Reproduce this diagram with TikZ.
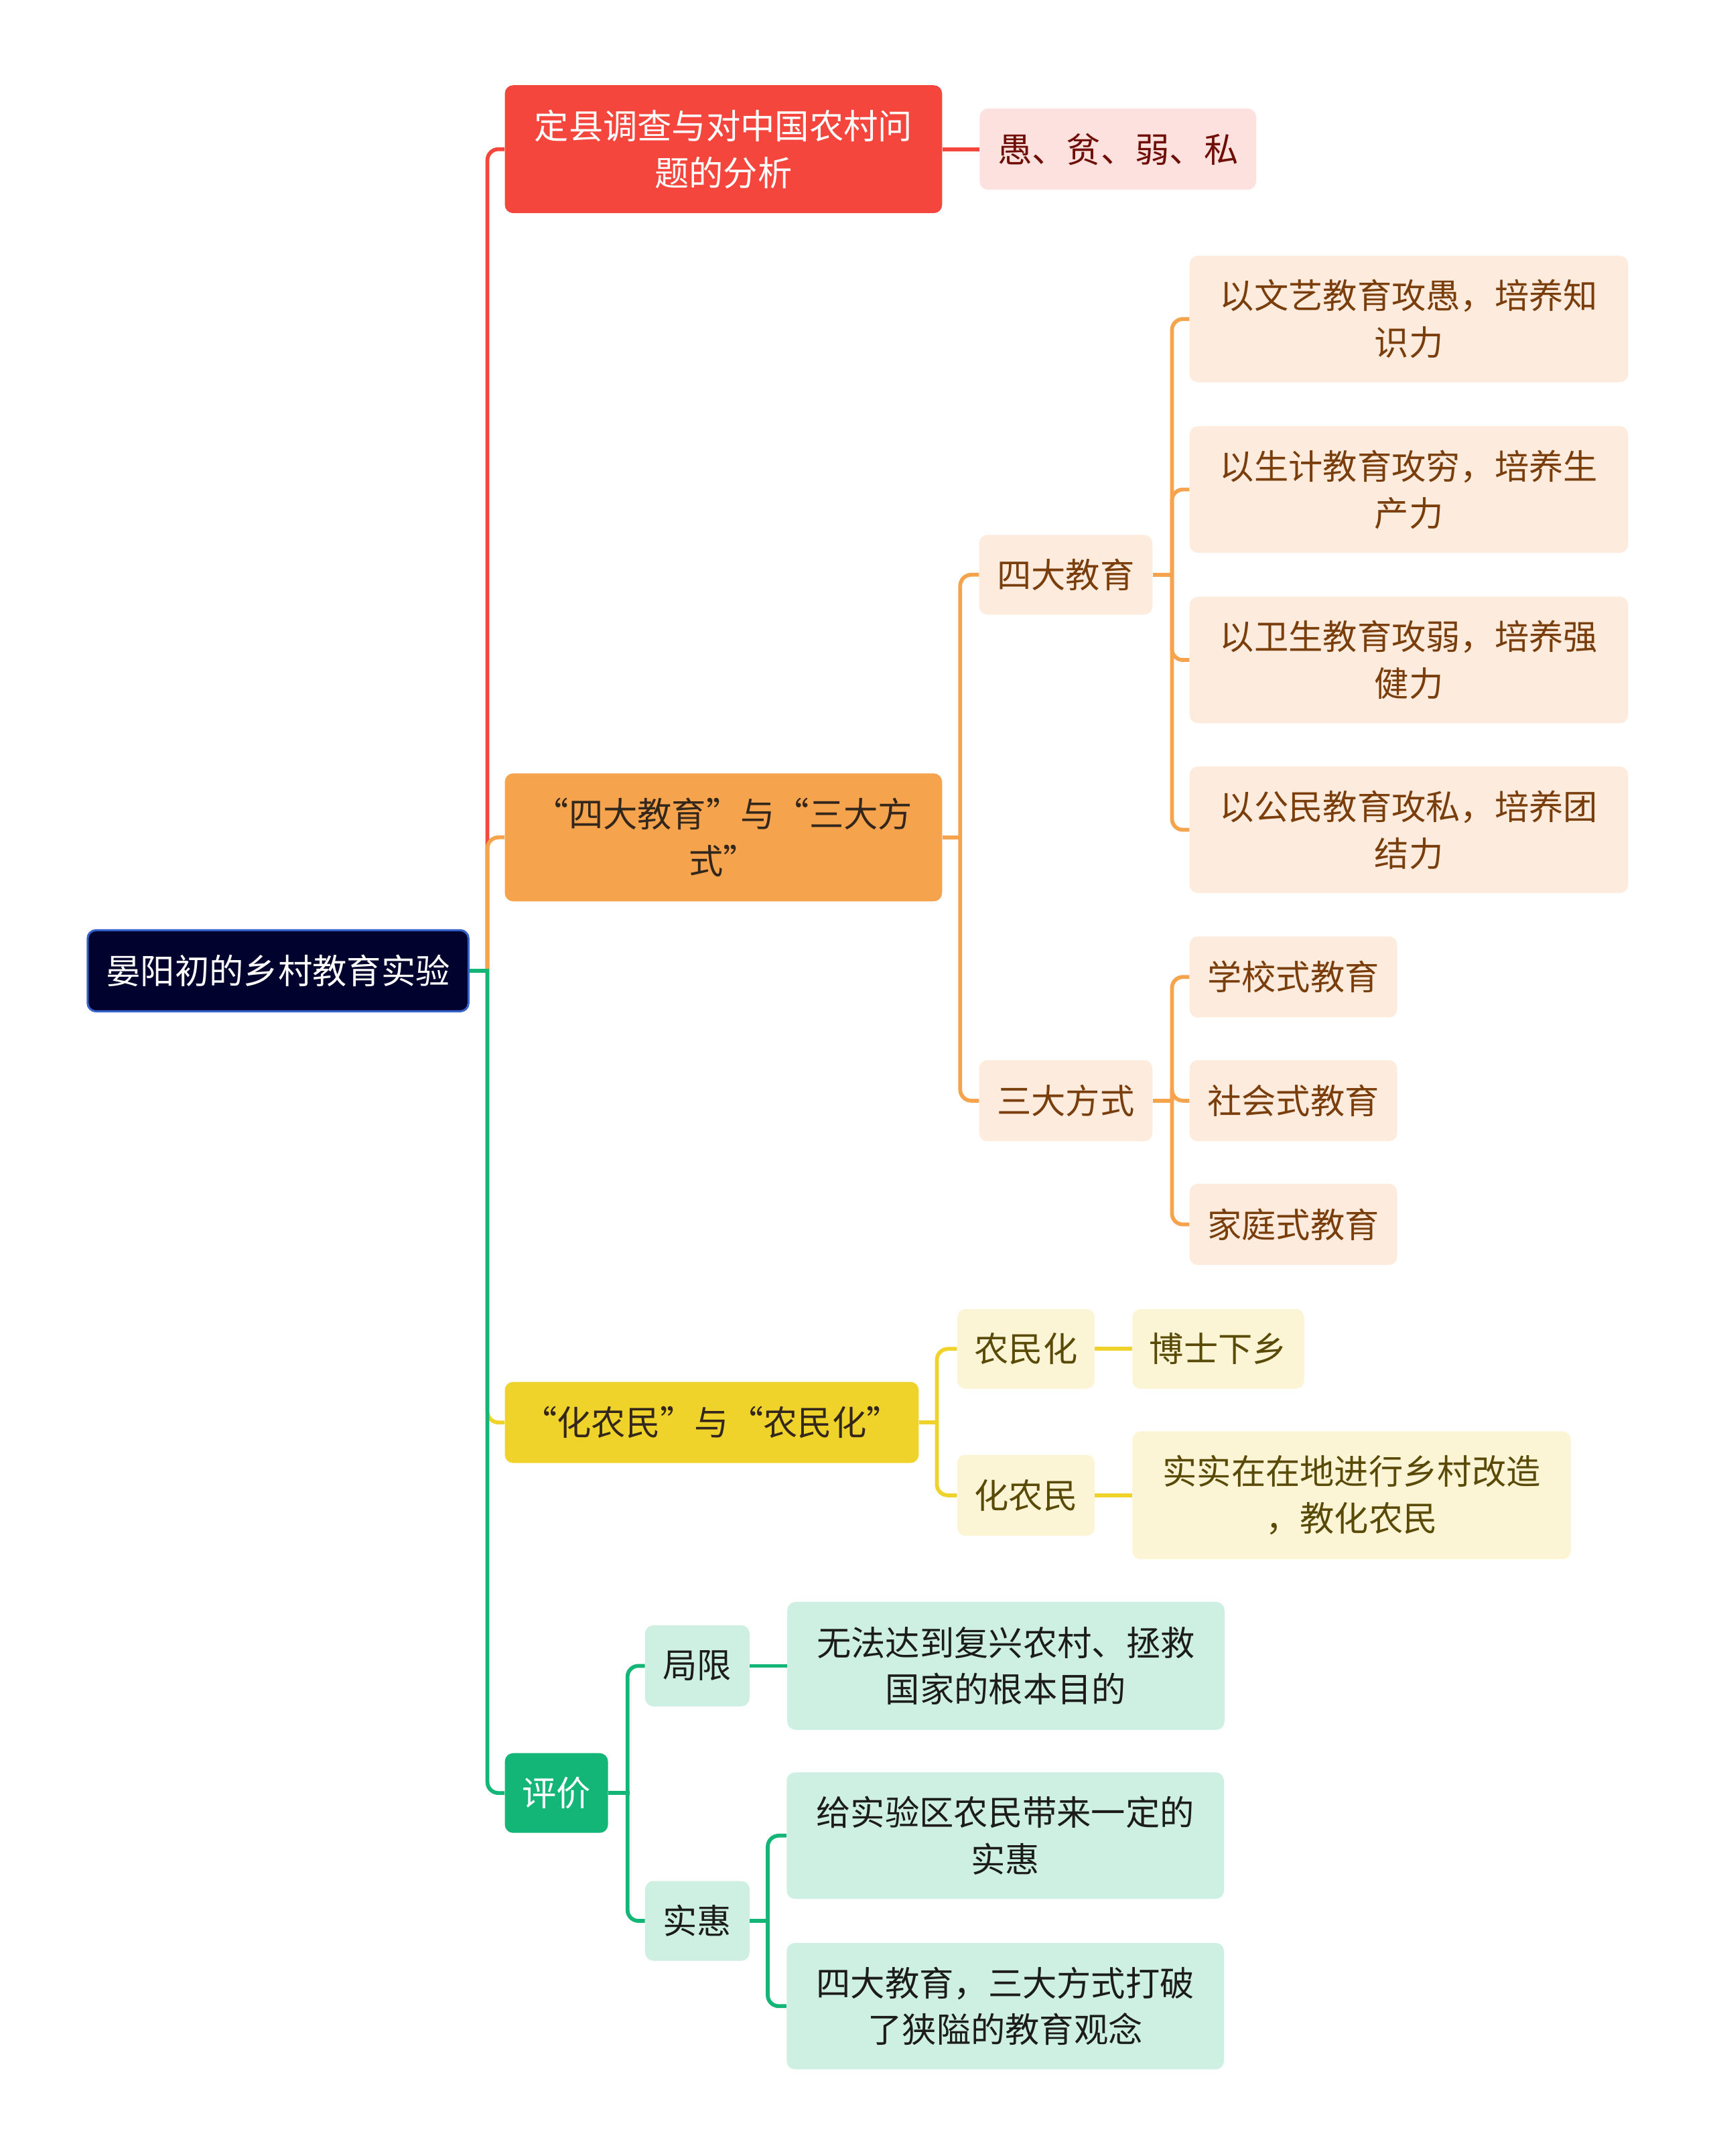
\documentclass[tikz,border=0pt]{standalone}
\usepackage{fontspec}
\setmainfont{Noto Sans CJK SC}
\usetikzlibrary{positioning}

\definecolor{rootfill}{HTML}{02022E}
\definecolor{rootdraw}{HTML}{3563C9}
\definecolor{redc}{HTML}{F5463E}
\definecolor{redlight}{HTML}{FDE1DF}
\definecolor{redtext}{HTML}{6E0E06}
\definecolor{orc}{HTML}{F5A34D}
\definecolor{orlight}{HTML}{FDECDD}
\definecolor{ortext}{HTML}{7A3D0C}
\definecolor{ordark}{HTML}{33261A}
\definecolor{yelc}{HTML}{F0D32A}
\definecolor{yellight}{HTML}{FBF5D5}
\definecolor{yeltext}{HTML}{5A4A08}
\definecolor{grc}{HTML}{14B677}
\definecolor{grlight}{HTML}{CEF0E2}
\definecolor{grtext}{HTML}{1C1C1C}

\begin{document}
\begin{tikzpicture}[
  x=1pt, y=-1pt,
  node distance=27pt,
  box/.style={rounded corners=6pt, align=center, inner sep=0pt, anchor=west,
              font=\fontsize{25}{34}\selectfont},
  rootbox/.style={box, fill=rootfill, draw=rootdraw, line width=1.5pt, text=white,
                  minimum width=277pt, minimum height=59pt},
  redbox/.style={box, fill=redc, text=white},
  redsub/.style={box, fill=redlight, text=redtext},
  orbox/.style={box, fill=orc, text=ordark},
  orsub/.style={box, fill=orlight, text=ortext},
  yelbox/.style={box, fill=yelc, text=ordark},
  yelsub/.style={box, fill=yellight, text=yeltext},
  grbox/.style={box, fill=grc, text=white},
  grsub/.style={box, fill=grlight, text=grtext},
  wide/.style={minimum width=318pt, minimum height=93pt},
  lnk/.style={line width=2.8pt},
  elbow/.style={lnk, rounded corners=8pt}
]
\useasboundingbox (0,0) rectangle (1247,1568);

% root
\node[rootbox] (root) at (63,706) {晏阳初的乡村教育实验};

% main branches
\node[redbox, wide] (dingxian) at (367,108.5) {定县调查与对中国农村问\\题的分析};
\node[redsub, right=of dingxian, minimum width=201pt, minimum height=59pt] (yupin) {愚、贫、弱、私};

\node[orbox, wide] (sida) at (367,609) {“四大教育”与“三大方\\式”};
\node[orsub, minimum width=126pt, minimum height=58pt] (jiaoyu) at (712,418) {四大教育};
\node[orsub, minimum width=126pt, minimum height=59pt] (fangshi) at (712,800.5) {三大方式};

\node[orsub, minimum width=319pt, minimum height=92pt] (wenyi) at (865,232) {以文艺教育攻愚，培养知\\识力};
\node[orsub, minimum width=319pt, minimum height=92pt] (shengji) at (865,356) {以生计教育攻穷，培养生\\产力};
\node[orsub, minimum width=319pt, minimum height=92pt] (weisheng) at (865,480) {以卫生教育攻弱，培养强\\健力};
\node[orsub, minimum width=319pt, minimum height=92pt] (gongmin) at (865,603.5) {以公民教育攻私，培养团\\结力};

\node[orsub, minimum width=151pt, minimum height=59pt] (xuexiao) at (865,710.5) {学校式教育};
\node[orsub, minimum width=151pt, minimum height=59pt] (shehui) at (865,800.5) {社会式教育};
\node[orsub, minimum width=151pt, minimum height=59pt] (jiating) at (865,890.5) {家庭式教育};

\node[yelbox, minimum width=301pt, minimum height=59pt] (huanong) at (367,1034.5) {“化农民”与“农民化”};
\node[yelsub, minimum width=100pt, minimum height=58pt] (nmh) at (696,981) {农民化};
\node[yelsub, minimum width=100pt, minimum height=59pt] (hnm) at (696,1087.5) {化农民};
\node[yelsub, right=of nmh, minimum width=125pt, minimum height=58pt] (boshi) {博士下乡};
\node[yelsub, right=of hnm, minimum width=319pt, minimum height=93pt] (gaizao) {实实在在地进行乡村改造\\，教化农民};

\node[grbox, minimum width=75pt, minimum height=58pt] (pingjia) at (367,1304) {评价};
\node[grsub, minimum width=76pt, minimum height=59pt] (juxian) at (469,1211.5) {局限};
\node[grsub, minimum width=76pt, minimum height=58pt] (shihui) at (469,1397) {实惠};
\node[grsub, right=of juxian, wide] (wufa) {无法达到复兴农村、拯救\\国家的根本目的};
\node[grsub, wide, minimum height=92pt] (daihui) at (572,1335) {给实验区农民带来一定的\\实惠};
\node[grsub, wide, minimum height=92pt] (dapo) at (572,1459) {四大教育，三大方式打破\\了狭隘的教育观念};

% junctions
\coordinate (rootj) at ([xshift=13pt]root.east);
\coordinate (sidaj) at ([xshift=13pt]sida.east);
\coordinate (jiaoyuj) at ([xshift=14pt]jiaoyu.east);
\coordinate (fangshij) at ([xshift=14pt]fangshi.east);
\coordinate (huanongj) at ([xshift=13pt]huanong.east);
\coordinate (pingjiaj) at ([xshift=14pt]pingjia.east);
\coordinate (shihuij) at ([xshift=13pt]shihui.east);

% connectors
\foreach \n/\c in {dingxian/redc, sida/orc, huanong/yelc, pingjia/grc}
  \draw[elbow, \c] (rootj) |- (\n.west);
\draw[lnk, grc] (root.east) -- ([xshift=1.4pt]rootj);

\draw[lnk, redc] (dingxian) -- (yupin);

\foreach \n in {jiaoyu,fangshi}
  \draw[elbow, orc] (sidaj) |- (\n.west);
\draw[lnk, orc] (sida.east) -- ([xshift=1.4pt]sidaj);
\foreach \n in {wenyi,shengji,weisheng,gongmin}
  \draw[elbow, orc] (jiaoyuj) |- (\n.west);
\draw[lnk, orc] (jiaoyu.east) -- ([xshift=1.4pt]jiaoyuj);
\foreach \n in {xuexiao,shehui,jiating}
  \draw[elbow, orc] (fangshij) |- (\n.west);
\draw[lnk, orc] (fangshi.east) -- ([xshift=1.4pt]fangshij);

\foreach \n in {nmh,hnm}
  \draw[elbow, yelc] (huanongj) |- (\n.west);
\draw[lnk, yelc] (huanong.east) -- ([xshift=1.4pt]huanongj);
\draw[lnk, yelc] (nmh) -- (boshi);
\draw[lnk, yelc] (hnm) -- (gaizao);

\foreach \n in {juxian,shihui}
  \draw[elbow, grc] (pingjiaj) |- (\n.west);
\draw[lnk, grc] (pingjia.east) -- ([xshift=1.4pt]pingjiaj);
\draw[lnk, grc] (juxian) -- (wufa);
\foreach \n in {daihui,dapo}
  \draw[elbow, grc] (shihuij) |- (\n.west);
\draw[lnk, grc] (shihui.east) -- ([xshift=1.4pt]shihuij);
\end{tikzpicture}
\end{document}
